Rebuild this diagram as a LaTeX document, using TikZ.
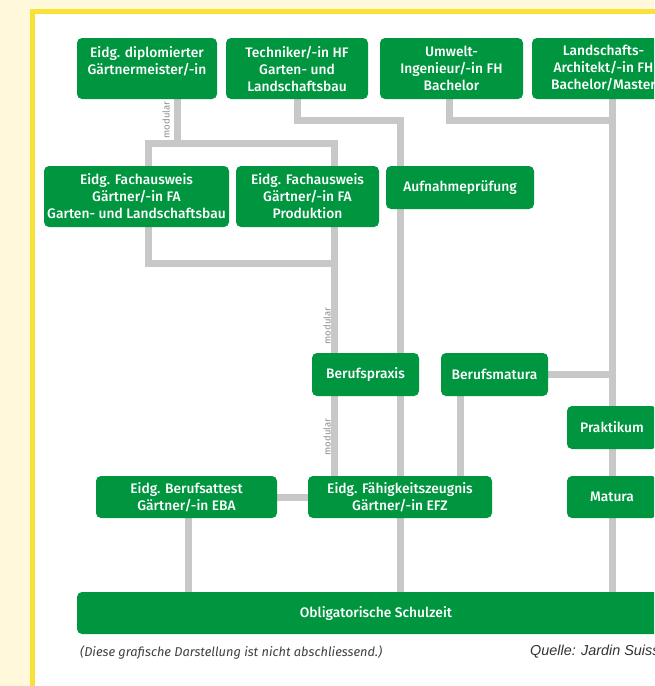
\documentclass[tikz,border=0pt]{standalone}
\usepackage{fontspec}
\setmainfont{Fira Sans}[BoldFont={Fira Sans Medium}]
\newfontfamily\quellefont{Liberation Sans}
\usetikzlibrary{backgrounds}
\definecolor{gruen}{RGB}{0,150,64}
\definecolor{balken}{RGB}{200,200,200}
\definecolor{rahmen}{RGB}{249,226,56}
\definecolor{creme}{RGB}{255,248,218}

\begin{document}
\begin{tikzpicture}[x=1pt,y=-1pt,
    box/.style={fill=gruen,text=white,rounded corners=5pt,inner sep=0pt,align=center,
      font=\fontsize{13.8}{17}\selectfont\bfseries},
    link/.style={draw=balken,line width=7pt},
    modlabel/.style={rotate=90,text=black!45,inner sep=0pt,font=\fontsize{9.5}{10}\selectfont}]
      \useasboundingbox (0,0) rectangle (654,686) ;
      \clip (0,0) rectangle (654,686) ;
      % obere Reihe
      \node[box,minimum width=140pt,minimum height=61pt] (meister) at (147,68.5) %
      {Eidg. diplomierter\\Gärtnermeister/-in\\\mbox{}} ;
      \node[box,minimum width=142pt,minimum height=61pt] (techniker) at (297,68.5) %
      {Techniker/-in HF\\Garten- und\\Landschaftsbau} ;
      \node[box,minimum width=143pt,minimum height=61pt] (umwelt) at (451.5,68.5) %
      {Umwelt-\\Ingenieur/-in FH\\Bachelor} ;
      \node[box,minimum width=143pt,minimum height=61pt] (landschaft) at (603.5,68.5) %
      {Landschafts-\\Architekt/-in FH\\Bachelor/Master} ;
      % Fachausweise
      \node[box,minimum width=185pt,minimum height=61pt] (fagarten) at (136.5,196.5) %
      {Eidg. Fachausweis\\Gärtner/-in FA\\Garten- und Landschaftsbau} ;
      \node[box,minimum width=143pt,minimum height=61pt] (faprod) at (307.5,196.5) %
      {Eidg. Fachausweis\\Gärtner/-in FA\\Produktion} ;
      \node[box,minimum width=148pt,minimum height=43pt] (aufnahme) at (460,187.5) {Aufnahmeprüfung} ;
      % Mitte
      \node[box,minimum width=107pt,minimum height=43pt] (praxis) at (365.5,374.5) {Berufspraxis} ;
      \node[box,minimum width=107pt,minimum height=43pt] (bmatura) at (494.5,374.5) {Berufsmatura} ;
      \node[box,minimum width=90pt,minimum height=43pt] (praktikum) at (612,427.5) {Praktikum} ;
      % Grundbildung
      \node[box,minimum width=181pt,minimum height=42pt] (eba) at (186.5,497) %
      {Eidg. Berufsattest\\Gärtner/-in EBA} ;
      \node[box,minimum width=184pt,minimum height=42pt] (efz) at (400,497) %
      {Eidg. Fähigkeitszeugnis\\Gärtner/-in EFZ} ;
      \node[box,minimum width=90pt,minimum height=42pt] (matura) at (612,497) {Matura} ;
      \node[box,minimum width=598pt,minimum height=42pt] (schulzeit) at (376,613) {Obligatorische Schulzeit} ;
      % Beschriftungen
      \node[modlabel] (mod1) at (166,120) {modular} ;
      \node[modlabel] (mod2) at (327,326) {modular} ;
      \node[modlabel] (mod3) at (327,437) {modular} ;
      \node[anchor=west,inner sep=0pt,text=black!75,font=\fontsize{12.8}{14}\selectfont\itshape] %
      (note) at (80,652) {(Diese grafische Darstellung ist nicht abschliessend.)} ;
      \node[anchor=west,inner sep=0pt,text=black!80,font=\quellefont\fontsize{14.4}{16}\selectfont\itshape] %
      (quelle) at (530,652) {Quelle: Jardin Suisse} ;
      % Spalten und Zeilen der Verbindungen
      \coordinate (cG) at (177,0) ;
      \coordinate (cL) at (148,0) ;
      \coordinate (cM) at (334,0) ;
      \coordinate (cTk) at (297,0) ;
      \coordinate (cT) at (400,0) ;
      \coordinate (cU) at (449,0) ;
      \coordinate (cB) at (460,0) ;
      \coordinate (cE) at (188,0) ;
      \coordinate (cR) at (612,0) ;
      \coordinate (rA) at (0,143) ;
      \coordinate (rB) at (0,263) ;
      \coordinate (rC) at (0,120) ;
      \begin{pgfonlayer}{background}
      \fill[creme] (0,0) rectangle (654,686) ;
      \draw[rahmen,line width=5pt,fill=white] (32.5,11.5) rectangle (720,720) ;
      \draw[link] (meister.south -| cG) -- (cG |- rA) ;
      \draw[link] (fagarten.north -| cL) -- (cL |- rA) -- (cM |- rA) -- (faprod.north -| cM) ;
      \draw[link] (fagarten.south -| cL) -- (cL |- rB) -- (cM |- rB) ;
      \draw[link] (faprod.south -| cM) -- (praxis.north -| cM) ;
      \draw[link] (praxis.south -| cM) -- (efz.north -| cM) ;
      \draw[link] (techniker.south -| cTk) -- (cTk |- rC) -- (cT |- rC) -- (schulzeit.north -| cT) ;
      \draw[link] (umwelt.south -| cU) -- (cU |- rC) -- (cR |- rC) ;
      \draw[link] (landschaft.south -| cR) -- (schulzeit.north -| cR) ;
      \draw[link] (bmatura.east) -- (bmatura.east -| cR) ;
      \draw[link] (bmatura.south -| cB) -- (efz.north -| cB) ;
      \draw[link] (eba.east) -- (efz.west) ;
      \draw[link] (eba.south -| cE) -- (schulzeit.north -| cE) ;
      \end{pgfonlayer}
\end{tikzpicture}
\end{document}
